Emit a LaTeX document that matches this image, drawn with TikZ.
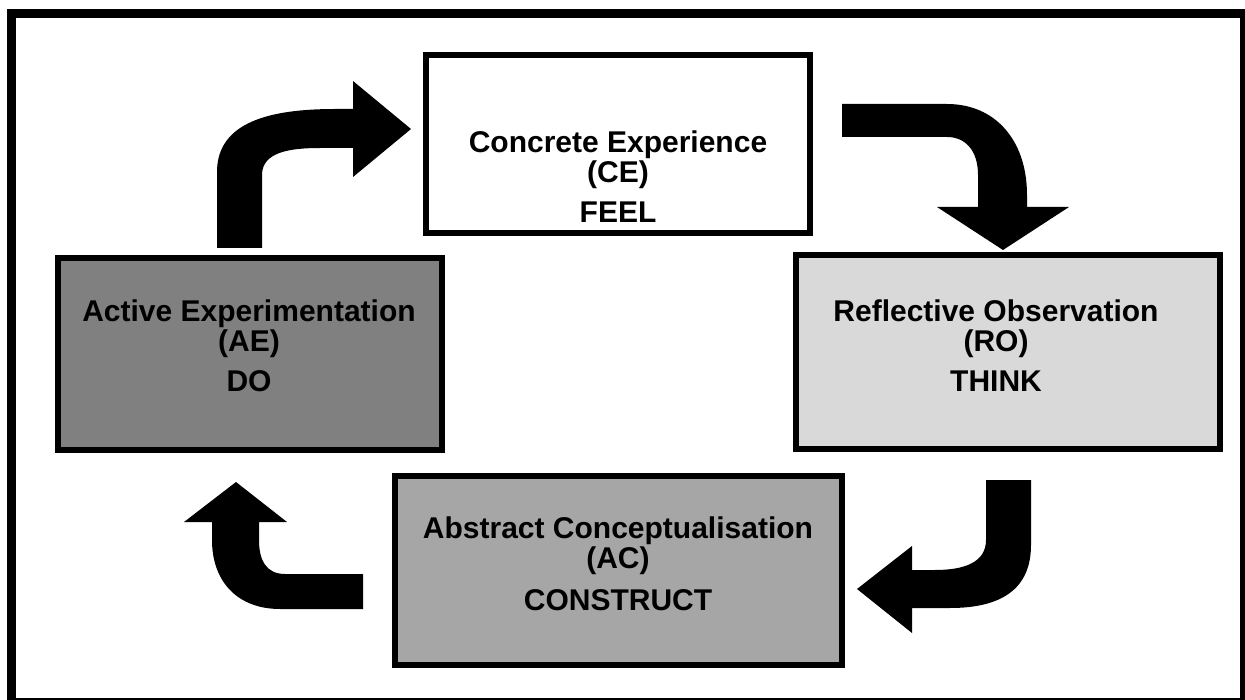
\documentclass[tikz,border=0pt]{standalone}
\usepackage{fontspec}
\setmainfont{Liberation Sans}
\definecolor{aegray}{HTML}{808080}
\definecolor{rogray}{HTML}{D9D9D9}
\definecolor{acgray}{HTML}{A6A6A6}
\begin{document}
\begin{tikzpicture}[x=1pt,y=-1pt,
  stage/.style={draw=black, line width=6pt, inner sep=0pt, anchor=center},
  stagetext/.style={font=\bfseries\fontsize{30}{30}\selectfont, align=center, inner sep=0pt, anchor=center},
  blockarrow/.style={fill=black, draw=none}]
\useasboundingbox (0,0) rectangle (1245,700);
\draw[line width=9pt] (11.5,13.5) rectangle (1244,702);

% boxes
\node[stage, fill=white, minimum width=384pt, minimum height=178pt] (ce) at (618,144) {};
\node[stage, fill=rogray, minimum width=424pt, minimum height=194pt] (ro) at (1008,352) {};
\node[stage, fill=acgray, minimum width=447.5pt, minimum height=189.5pt] (ac) at (618.25,570.25) {};
\node[stage, fill=aegray, minimum width=383.5pt, minimum height=191.5pt] (ae) at (249.75,353.75) {};

% texts
\node[stagetext] (cet) at (618,177) {Concrete Experience\\(CE)\\[10pt]FEEL};
\node[stagetext] (rot) at (996,346) {Reflective Observation\\(RO)\\[10pt]THINK};
\node[stagetext] (act) at (618,564) {Abstract Conceptualisation\\(AC)\\[12pt]CONSTRUCT};
\node[stagetext] (aet) at (249,346) {Active Experimentation\\(AE)\\[10pt]DO};

% arrow AE -> CE
\fill[blockarrow] (217,248) -- (217,172) .. controls (217,122) and (270,109) .. (335,109)
  -- (353,109) -- (353,81) -- (411,129) -- (353,177) -- (353,148) -- (320,148)
  .. controls (290,148) and (262,152) .. (262,175) -- (262,248) -- cycle;
% arrow CE -> RO
\fill[blockarrow] (842,104) -- (947,104) .. controls (995,104) and (1027,140) .. (1027,195)
  -- (1027,207) -- (1069,207) -- (1003,250) -- (937,207) -- (978,207) -- (978,175)
  .. controls (978,150) and (965,137) .. (947,137) -- (842,137) -- cycle;
% arrow RO -> AC
\fill[blockarrow] (986,480) -- (1031,480) -- (1031,545) .. controls (1031,590) and (1000,608) .. (950,608)
  -- (912,608) -- (912,633) -- (857,589) -- (912,546) -- (912,570) -- (935,570)
  .. controls (965,570) and (986,562) .. (986,540) -- cycle;
% arrow AC -> AE
\fill[blockarrow] (363,574) -- (285,574) .. controls (266,574) and (259,560) .. (259,540)
  -- (259,522) -- (287,522) -- (236,482) -- (184,522) -- (212,522) -- (212,540)
  .. controls (212,582) and (238,609) .. (280,609) -- (363,609) -- cycle;
\end{tikzpicture}
\end{document}
